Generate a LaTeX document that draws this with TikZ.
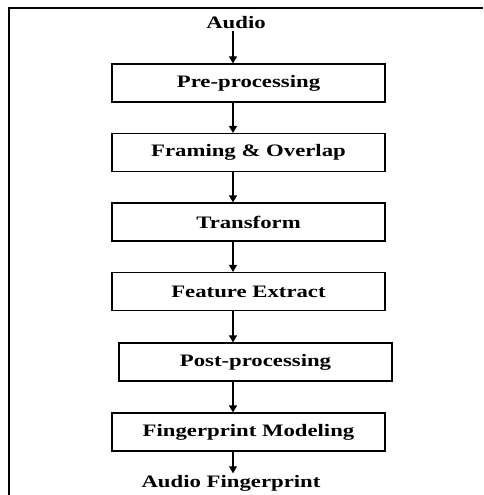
\documentclass[tikz,border=0pt]{standalone}
\usepackage{fontspec}
\setmainfont{Liberation Serif}[FakeStretch=1.3]
\usetikzlibrary{arrows.meta}
\begin{document}
\begin{tikzpicture}[x=1pt,y=-1pt,
  box/.style={draw, line width=1.1pt, minimum height=38pt, inner sep=0pt, font=\fontsize{17.5}{20}\selectfont\bfseries},
  lbl/.style={inner sep=1.5pt, font=\fontsize{17.5}{20}\selectfont\bfseries},
  arr/.style={line width=1.1pt, -{Triangle[length=7pt,width=8pt]}}]
\useasboundingbox (0,0) rectangle (483,495);
\draw[line width=1.6pt] (9,495) -- (9,8) -- (483,8);
\coordinate (ax) at (233,0);
\node[lbl] (audio) at (236,23) {Audio};
\node[box, minimum width=273pt] (pre) at (248.5,83) {Pre-processing};
\node[box, minimum width=273pt] (frm) at (248.5,152.5) {Framing \& Overlap};
\node[box, minimum width=273pt] (trf) at (248.5,222) {Transform};
\node[box, minimum width=273pt] (fex) at (248.5,291.5) {Feature Extract};
\node[box, minimum width=273pt] (post) at (255.5,362) {Post-processing};
\node[box, minimum width=273pt] (fpm) at (248.5,432) {Fingerprint Modeling};
\node[lbl] (afp) at (231,483) {Audio Fingerprint};
\draw[arr] (audio.south -| ax) -- (pre.north -| ax);
\draw[arr] (pre.south -| ax) -- (frm.north -| ax);
\draw[arr] (frm.south -| ax) -- (trf.north -| ax);
\draw[arr] (trf.south -| ax) -- (fex.north -| ax);
\draw[arr] (fex.south -| ax) -- (post.north -| ax);
\draw[arr] (post.south -| ax) -- (fpm.north -| ax);
\draw[arr] (fpm.south -| ax) -- (afp.north -| ax);
\end{tikzpicture}
\end{document}
